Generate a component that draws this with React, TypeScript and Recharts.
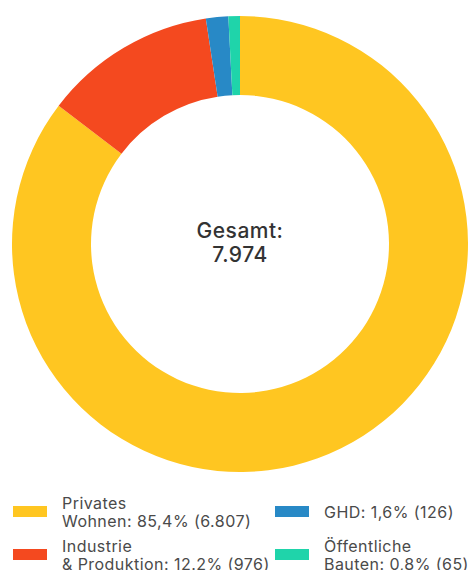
import { PieChart, Pie, Cell, Legend } from "recharts";

const categories = ["Privates Wohnen", "Industrie & Produktion", "GHD", "Öffentliche Bauten"];
const values = [6807, 976, 126, 65];
const legendLabels = [
  "Privates\nWohnen: 85,4% (6.807)",
  "Industrie\n& Produktion: 12.2% (976)",
  "GHD: 1,6% (126)",
  "Öffentliche\nBauten: 0,8% (65)",
];
const colors = ["#FFC621", "#F4491F", "#2889C6", "#1FD4AA"];

const data = categories.map((name, i) => ({ name, value: values[i] }));
const total = values.reduce((a, b) => a + b, 0);

const FONT = "Inter, 'Open Sans', sans-serif";
const CX = 240;
const CY = 244;

function LegendBox() {
  // two columns, filled top-down
  const cols = [[0, 1], [2, 3]];
  return (
    <div
      style={{
        display: "flex",
        fontFamily: FONT,
        fontSize: 16,
        letterSpacing: 0.45,
        color: "#4a4a4a",
        lineHeight: "18px",
      }}
    >
      {cols.map((col, ci) => (
        <div
          key={ci}
          style={{
            width: ci === 0 ? 275 : 194,
            flexShrink: 0,
            paddingLeft: ci === 0 ? 13 : 0,
            boxSizing: "border-box",
          }}
        >
          {col.map((i) => (
            <div key={i} style={{ display: "flex", alignItems: "center", height: 43 }}>
              <div style={{ width: 34, height: 11, background: colors[i], marginRight: 15, flexShrink: 0 }} />
              <span style={{ whiteSpace: "pre" }}>{legendLabels[i]}</span>
            </div>
          ))}
        </div>
      ))}
    </div>
  );
}

export default function App() {
  return (
    <div style={{ position: "absolute", left: 0, top: 0, width: 469, height: 570, background: "#fff", overflow: "hidden" }}>
      <PieChart width={469} height={570} margin={{ top: 0, right: 0, bottom: 0, left: 0 }}>
        <Pie
          data={data}
          dataKey="value"
          nameKey="name"
          cx={CX}
          cy={CY}
          innerRadius={149}
          outerRadius={228}
          startAngle={90}
          endAngle={-270}
          stroke="none"
          isAnimationActive={false}
        >
          {data.map((d, i) => (
            <Cell key={d.name} fill={colors[i]} />
          ))}
        </Pie>
        <text textAnchor="middle" fontFamily={FONT} fontSize={21} fontWeight={500} fill="#333" letterSpacing={0.5}>
          <tspan x={CX} y={CY - 6}>Gesamt:</tspan>
          <tspan x={CX} y={CY + 18}>{total.toLocaleString("de-DE")}</tspan>
        </text>
        <Legend
          content={() => <LegendBox />}
          wrapperStyle={{ position: "absolute", left: 0, top: 490, width: 469 }}
        />
      </PieChart>
    </div>
  );
}
